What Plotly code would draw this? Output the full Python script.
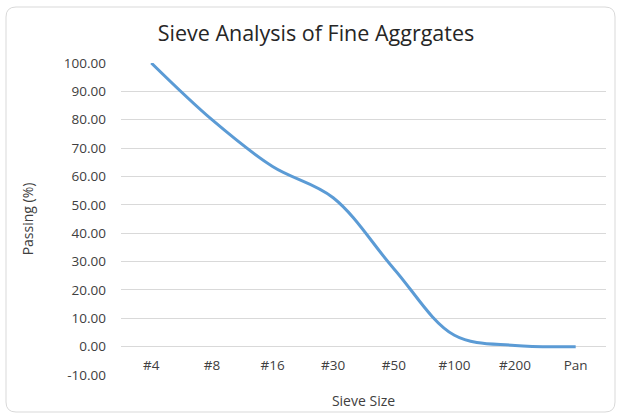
import plotly.graph_objects as go

sieve_sizes = ["#4", "#8", "#16", "#30", "#50", "#100", "#200", "Pan"]
passing_pct = [100.0, 80.0, 63.5, 52.5, 27.5, 4.0, 0.4, 0.0]
y_ticks = [-10, 0, 10, 20, 30, 40, 50, 60, 70, 80, 90, 100]
y_tick_text = [f"{v:.2f}" for v in y_ticks]

W, H = 622, 416
L, R, T, B = 121, 606, 63, 375
FONT = "Open Sans"
TXT = "#404040"

fig = go.Figure()
fig.add_trace(go.Scatter(
    x=sieve_sizes, y=passing_pct, mode="lines",
    line=dict(color="#5b9bd5", width=3, shape="spline", smoothing=1),
    showlegend=False, hoverinfo="x+y",
))

def px(x):
    return (x - L) / (R - L)

def py(y):
    return (B - y) / (B - T)

# rounded chart border (pixel geometry -> paper coords)
x0, x1, y0, y1, rr = 6, 615, 7, 412, 10
path = (
    f"M {px(x0+rr)},{py(y0)} L {px(x1-rr)},{py(y0)} "
    f"Q {px(x1)},{py(y0)} {px(x1)},{py(y0+rr)} "
    f"L {px(x1)},{py(y1-rr)} Q {px(x1)},{py(y1)} {px(x1-rr)},{py(y1)} "
    f"L {px(x0+rr)},{py(y1)} Q {px(x0)},{py(y1)} {px(x0)},{py(y1-rr)} "
    f"L {px(x0)},{py(y0+rr)} Q {px(x0)},{py(y0)} {px(x0+rr)},{py(y0)} Z"
)
fig.add_shape(type="path", path=path, xref="paper", yref="paper",
              line=dict(color="#d9d9d9", width=1), layer="below")

fig.update_layout(
    width=W, height=H,
    margin=dict(l=L, r=W - R, t=T, b=H - B, pad=0, autoexpand=False),
    paper_bgcolor="white", plot_bgcolor="white",
    font=dict(family=FONT, size=13.5, color=TXT),
    title=dict(text="Sieve Analysis of Fine Aggrgates", x=316 / W, xref="container",
               xanchor="center", y=1 - 33 / H, yref="container", yanchor="middle",
               font=dict(family=FONT, size=21.5, color="#262626")),
    xaxis=dict(
        type="category", range=[-0.5, len(sieve_sizes) - 0.5],
        showgrid=False, showline=False, zeroline=False, automargin=False,
        anchor="free", position=(B - 347) / (B - T),
        ticks="", ticklabelstandoff=8,
        tickfont=dict(family=FONT, size=13.5, color=TXT),
        title=dict(text="Sieve Size", standoff=23,
                   font=dict(family=FONT, size=14, color=TXT)),
    ),
    yaxis=dict(
        range=[-10, 100], tickvals=y_ticks, ticktext=y_tick_text,
        showgrid=True, gridcolor="#d9d9d9", gridwidth=1, automargin=False,
        zeroline=False, showline=False, ticks="", ticklabelstandoff=14,
        tickfont=dict(family=FONT, size=13.5, color=TXT),
        title=dict(text="Passing (%)", standoff=26,
                   font=dict(family=FONT, size=14, color=TXT)),
    ),
)

fig.write_html("out.html")
